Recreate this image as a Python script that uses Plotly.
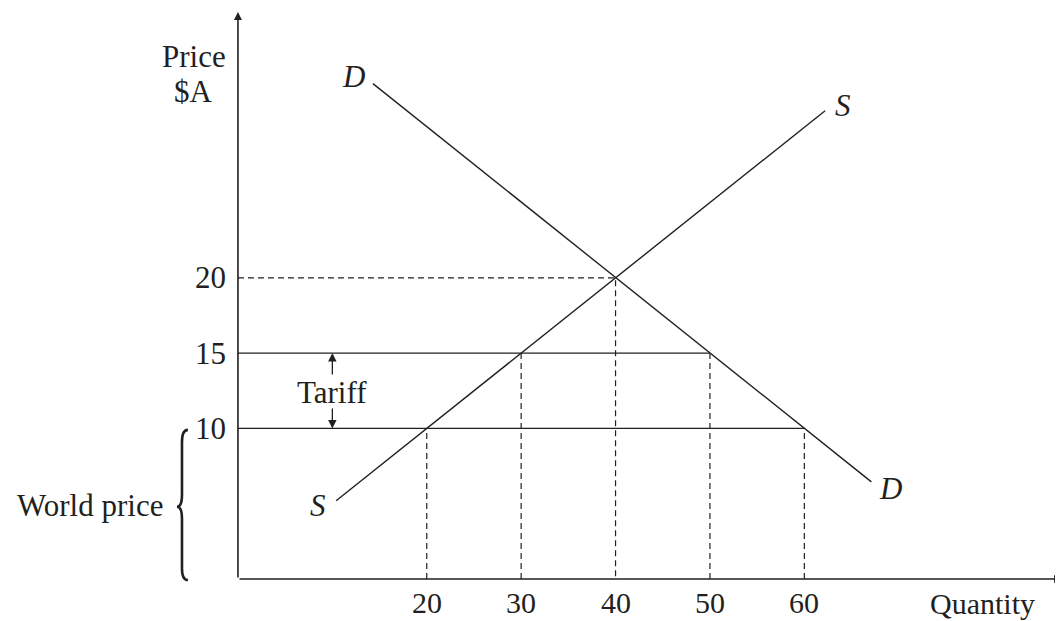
import plotly.graph_objects as go

# Data
supply_q = [10.4, 62.2]
supply_p = [5.2, 31.1]
demand_q = [14.3, 67.1]
demand_p = [32.9, 6.45]
x_ticks = [20, 30, 40, 50, 60]
y_ticks = [10, 15, 20]
equilibrium = (40, 20)
world_price = 10
tariff_price = 15
qty_world = (20, 60)     # supply, demand at world price
qty_tariff = (30, 50)    # supply, demand at tariff price

FONT = "Liberation Serif"
BLACK = "#231f20"
FS = 31

fig = go.Figure()

def line(xs, ys, dash=None, width=1.4):
    fig.add_trace(go.Scatter(x=xs, y=ys, mode="lines", hoverinfo="skip",
                             line=dict(color=BLACK, width=width, dash=dash)))

# Supply and demand
line(supply_q, supply_p)
line(demand_q, demand_p)

# Solid horizontal price lines
line([0, qty_tariff[1]], [tariff_price, tariff_price])
line([0, qty_world[1]], [world_price, world_price])

dash = "6px,4px"
line([0, equilibrium[0], equilibrium[0]], [equilibrium[1], equilibrium[1], 0], dash=dash, width=1.2)
for q in qty_world:
    line([q, q], [0, world_price], dash=dash, width=1.2)
for q in qty_tariff:
    line([q, q], [0, tariff_price], dash=dash, width=1.2)

ann = []
def arrow(x, y, ax, ay, w=1.6, size=1.0):
    ann.append(dict(x=x, y=y, ax=ax, ay=ay, xref="x", yref="y", axref="x", ayref="y",
                    showarrow=True, arrowhead=2, arrowsize=size, arrowwidth=w,
                    arrowcolor=BLACK, text=""))

def text(x, y, t, xanchor="center", size=FS):
    ann.append(dict(x=x, y=y, text=t, showarrow=False, xanchor=xanchor,
                    borderpad=0,
                    font=dict(family=FONT, size=size, color=BLACK)))

# Axes with arrowheads
arrow(87.3, 0, 0, 0)
arrow(0, 37.65, 0, 0)

# Tick labels
for q in x_ticks:
    text(q, -1.55, str(q), size=30)
for p in y_ticks:
    text(-1.15, p, str(p), xanchor="right")

# Tariff arrows
arrow(10, tariff_price, 10, 13.48, w=1.3, size=1.3)
arrow(10, world_price, 10, 11.42, w=1.3, size=1.3)
text(10.0, 12.38, "Tariff")

# Labels
text(-4.66, 34.73, "Price")
text(-4.66, 32.4, "$A")
text(78.9, -1.6, "Quantity", size=30)
text(-7.84, 4.85, "World price", xanchor="right")
text(12.29, 33.37, "<i>D</i>")
text(64.1, 31.44, "<i>S</i>")
text(69.17, 6.04, "<i>D</i>")
text(8.47, 4.85, "<i>S</i>")

# Brace for world price (from 0 to 10)
xr, xm, xl = -5.3, -5.93, -6.46
brace = (f"M {xr},{9.9} Q {xm},{9.9} {xm},{9.1} L {xm},{5.6} "
         f"Q {xm},{4.8} {xl},{4.8} Q {xm},{4.8} {xm},{4.0} "
         f"L {xm},{0.7} Q {xm},{-0.07} {xr},{-0.07}")
shapes = [dict(type="path", path=brace, xref="x", yref="y",
               line=dict(color=BLACK, width=2.6))]

# The page has an 8px body margin, so the figure is sized/ranged to land on the
# same screen pixels as the reference.
fig.update_layout(
    width=1055, height=613,
    margin=dict(l=0, r=0, t=0, b=0),
    paper_bgcolor="white", plot_bgcolor="white",
    showlegend=False,
    xaxis=dict(range=[-24.36, 87.4], visible=False, fixedrange=True),
    yaxis=dict(range=[-2.79, 37.92], visible=False, fixedrange=True),
    annotations=ann, shapes=shapes,
)

fig.write_html("out.html")
